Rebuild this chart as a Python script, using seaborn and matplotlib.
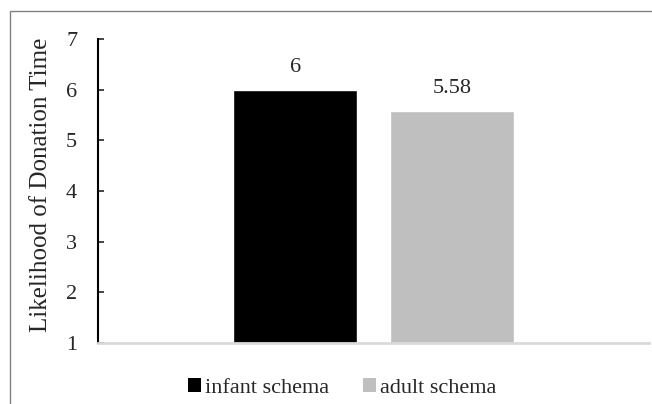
import pandas as pd
import matplotlib.pyplot as plt
import seaborn as sns
from matplotlib.patches import Rectangle, Patch

groups = ['infant schema', 'adult schema']
values = [6.0, 5.58]
labels = ['6', '5.58']
colors = ['#000000', '#bfbfbf']

data = pd.DataFrame({'x': ['all', 'all'], 'schema': groups, 'value': values})

sns.set_style('white')
plt.rcParams['font.family'] = ['Liberation Serif', 'DejaVu Serif']

fig = plt.figure(figsize=(6.52, 4.04), dpi=100)
ax = fig.add_axes([0.1503, 0.151, 0.8451, 0.7525])

sns.barplot(data=data, x='x', y='value', hue='schema', palette=colors,
            width=0.568, gap=0.208, ax=ax, legend=False)
# bars start at 1 (axis baseline)
for p in ax.patches:
    h = p.get_height()
    p.set_y(1)
    p.set_height(h - 1)

for p, lab in zip(ax.patches, labels):
    ax.annotate(lab, (p.get_x() + p.get_width() / 2, p.get_y() + p.get_height()),
                xytext=(0, 9), textcoords='offset points', ha='center', va='bottom',
                fontsize=16)

ax.set_ylim(1, 7)
ax.set_xlim(-0.5, 0.5)
ax.set_yticks(range(1, 8))
ax.set_xticks([])
ax.set_xlabel('')
ax.set_ylabel('Likelihood of Donation Time', fontsize=18)
ax.yaxis.set_label_coords(-0.083, 0.52)
ax.tick_params(axis='y', direction='in', length=4, width=1.2, labelsize=16, left=True, pad=15)

for s in ['top', 'right']:
    ax.spines[s].set_visible(False)
ax.spines['left'].set_color('black')
ax.spines['left'].set_linewidth(1.5)
ax.spines['bottom'].set_color('#d9d9d9')
ax.spines['bottom'].set_linewidth(2)

handles = [Patch(facecolor=c, edgecolor='none') for c in colors]
fig.legend(handles, groups, loc='center', bbox_to_anchor=(342 / 652, 1 - 388 / 404),
           ncol=2, frameon=False, fontsize=16, handlelength=0.6, handleheight=0.6,
           handletextpad=0.18, columnspacing=1.5, borderpad=0)

fig.patches.append(Rectangle((10 / 652, -0.1), 1.2, 1 - 11 / 404 + 0.1,
                             transform=fig.transFigure, fill=False,
                             edgecolor='#808080', linewidth=1))

fig.savefig('out.png', dpi=100)
